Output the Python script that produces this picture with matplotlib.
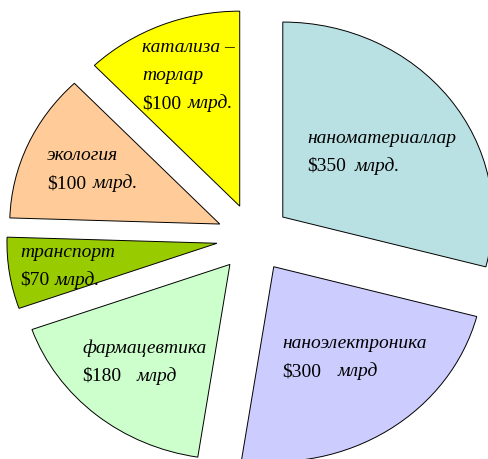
import matplotlib
matplotlib.use('Agg')
import matplotlib.pyplot as plt

# секторлар (соат милига қараб, юқоридан)
names = [['наноматериаллар'], ['наноэлектроника'], ['фармацевтика'],
         ['транспорт'], ['экология'], ['катализа –', 'торлар']]
amounts = ['$350', '$300', '$180', '$70', '$100', '$100']
units = ['млрд.', 'млрд', 'млрд', 'млрд.', 'млрд.', 'млрд.']
# sector sizes in degrees, as drawn in the picture
sizes = [104.8, 84, 61.7, 21.3, 44.4, 43.8]
colors = ['#B9E0E3', '#CCCCFF', '#CCFFCC', '#99CC00', '#FFCC99', '#FFFF00']

W, H = 488, 460
RX, RY = 210.0, 195.0   # pie is drawn slightly wider than tall (px)
cx, cy = 253.5, 239     # pie centre in px (from top-left)

fig = plt.figure(figsize=(W / 100, H / 100), dpi=100)
ax = fig.add_axes([0, 0, 1, 1])
ax.pie(sizes, colors=colors, explode=[0.176] * len(sizes), startangle=90,
       counterclock=False, radius=1,
       wedgeprops=dict(edgecolor='black', linewidth=0.7))
ax.set_aspect('auto')
ax.set_xlim(-cx / RX, (W - cx) / RX)
ax.set_ylim(-(H - cy) / RY, cy / RY)
ax.axis('off')

# text positions: left x, baseline y of first line (px from top-left)
label_pos = [(307, 143), (282, 348), (82, 353), (20, 257), (47, 160), (142, 52)]
unit_gap = [9, 17, 15, 5, 6, 6]
line_h = 28
fs = 14
font = 'Liberation Serif'


def px(x, y):
    return x / W, 1 - y / H


renderer = fig.canvas.get_renderer()
for i in range(len(sizes)):
    x0, y0 = label_pos[i]
    for j, line in enumerate(names[i]):
        fig.text(*px(x0, y0 + j * line_h), line, family=font, style='italic',
                 fontsize=fs, ha='left', va='baseline', parse_math=False)
    yl = y0 + len(names[i]) * line_h
    t = fig.text(*px(x0, yl), amounts[i], family=font, fontsize=fs,
                 ha='left', va='baseline', parse_math=False)
    bb = t.get_window_extent(renderer)
    fig.text(*px(bb.x1 + unit_gap[i], yl), units[i], family=font, style='italic',
             fontsize=fs, ha='left', va='baseline', parse_math=False)

fig.savefig('out.png', dpi=100)
